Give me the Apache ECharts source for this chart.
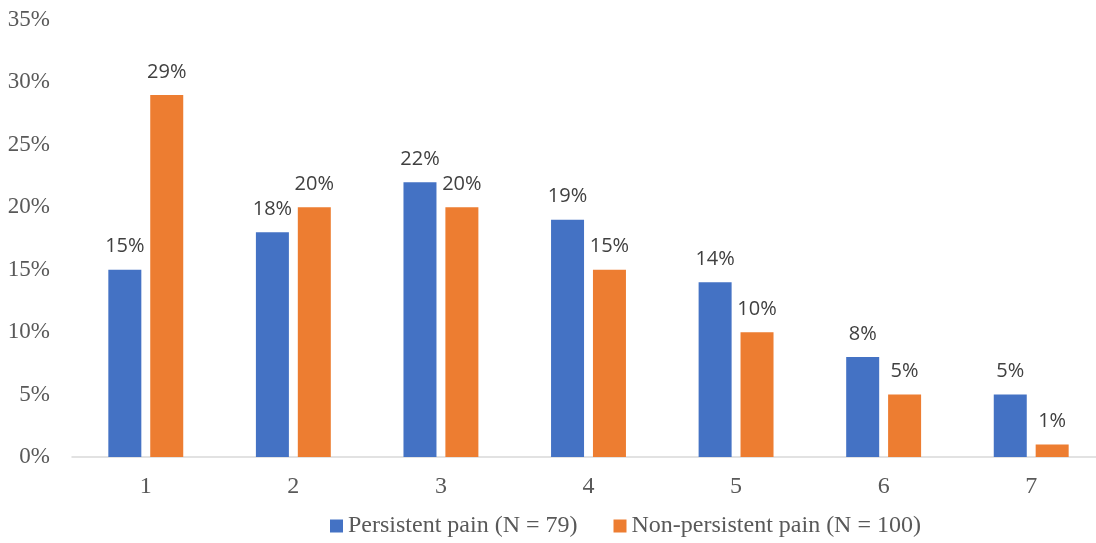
<!DOCTYPE html>
<html>
<head>
<meta charset="utf-8">
<script src="https://cdn.jsdelivr.net/npm/echarts@6/dist/echarts.min.js"></script>
<style>
  html, body { margin: 0; padding: 0; background: #fff; overflow: hidden; }
  /* a little wider than the window: the last category runs past the right edge */
  #chart { width: 1106px; height: 543px; }
</style>
</head>
<body>
<div id="chart"></div>
<script>
const categories = ["1", "2", "3", "4", "5", "6", "7"];
const persistent = [15, 18, 22, 19, 14, 8, 5];
const nonPersistent = [29, 20, 20, 15, 10, 5, 1];
const seriesNames = ["Persistent pain (N = 79)", "Non-persistent pain (N = 100)"];

const serif = "'Liberation Serif', 'Times New Roman', serif";
const sans = "'Open Sans', 'Liberation Sans', sans-serif";

const labelStyle = {
  show: true,
  position: "top",
  distance: 13,
  formatter: (p) => p.value + "%",
  fontFamily: sans,
  fontSize: 20,
  color: "#404040",
};

const chart = echarts.init(document.getElementById("chart"));
chart.setOption({
  animation: false,
  grid: { left: 72, right: 1, top: 20, bottom: 86 },
  legend: {
    bottom: 0,
    left: 325,
    itemWidth: 13,
    itemHeight: 13,
    itemGap: 36,
    icon: "rect",
    textStyle: { fontFamily: serif, fontSize: 24, color: "#595959" },
    data: seriesNames,
  },
  xAxis: {
    type: "category",
    data: categories,
    axisLine: { lineStyle: { color: "#d9d9d9", width: 1.5 } },
    axisTick: { show: false },
    axisLabel: { fontFamily: serif, fontSize: 24, color: "#595959", margin: 18 },
  },
  yAxis: {
    type: "value",
    min: 0,
    max: 35,
    interval: 5,
    axisLine: { show: false },
    axisTick: { show: false },
    splitLine: { show: false },
    axisLabel: {
      fontFamily: serif,
      fontSize: 23,
      color: "#595959",
      margin: 22,
      formatter: "{value}%",
    },
  },
  series: [
    {
      name: seriesNames[0],
      type: "bar",
      barWidth: 33,
      barGap: "27%",
      itemStyle: { color: "#4472C4" },
      label: labelStyle,
      data: persistent,
    },
    {
      name: seriesNames[1],
      type: "bar",
      barWidth: 33,
      itemStyle: { color: "#ED7D31" },
      label: labelStyle,
      data: nonPersistent,
    },
  ],
});
</script>
</body>
</html>
